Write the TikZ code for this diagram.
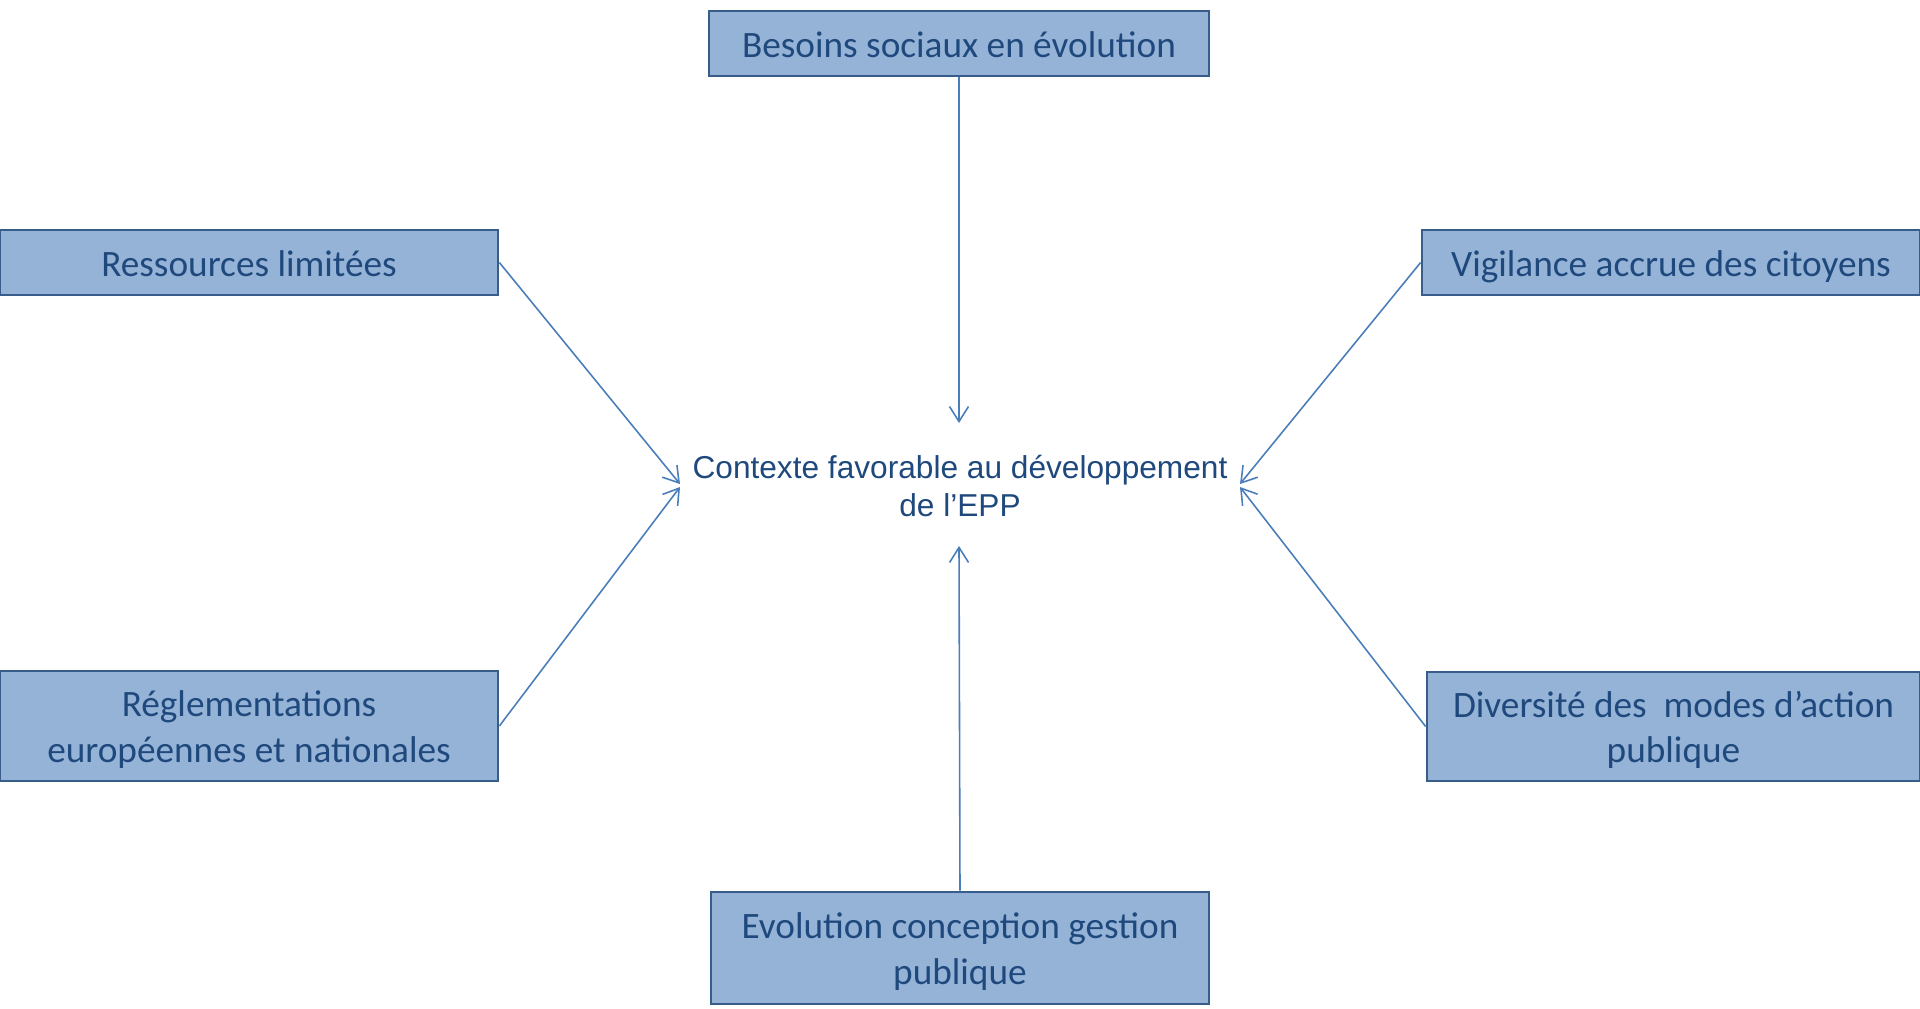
\documentclass[tikz,border=0pt]{standalone}
\usepackage{fontspec}
\setmainfont{Carlito}
\newfontfamily\arialfont{Liberation Sans}
\usetikzlibrary{arrows.meta}
\definecolor{boxfill}{HTML}{95B3D7}
\definecolor{boxline}{HTML}{385D8A}
\definecolor{txtblue}{HTML}{1F497D}
\definecolor{arrowblue}{HTML}{4A7EBB}
\newcommand\bxs{\rule[-2.65pt]{0pt}{13pt}}
\newcommand\cxs{\rule[-2.7pt]{0pt}{10.9pt}}
\tikzset{
  causebox/.style={draw=boxline, fill=boxfill, line width=0.7pt, inner sep=0pt,
    text=txtblue, align=center, font=\fontsize{10.6pt}{13pt}\selectfont},
  connector/.style={draw=arrowblue, line width=0.45pt,
    -{Straight Barb[length=1.5mm,width=1.9mm]}},
}
\begin{document}
\begin{tikzpicture}[x=0.01cm,y=-0.01cm]
\useasboundingbox (0,0) rectangle (1920,1009);
\begin{scope}
\clip (0,0) rectangle (1920,1009);
\node[causebox, minimum width=5.00cm, minimum height=0.65cm] (besoins) at (959,43.5) {\bxs Besoins sociaux en évolution};
\node[causebox, minimum width=4.98cm, minimum height=0.65cm] (ressources) at (249,262.5) {\bxs Ressources limitées};
\node[causebox, minimum width=4.98cm, minimum height=0.65cm] (vigilance) at (1671,262.5) {\bxs Vigilance accrue des citoyens};
\node[causebox, minimum width=4.98cm, minimum height=1.10cm] (regl) at (249,726) {\bxs Réglementations\\\bxs européennes et nationales};
\node[causebox, minimum width=4.93cm, minimum height=1.09cm] (diversite) at (1673.5,726.5) {\bxs Diversité des\ \ modes d’action\\\bxs publique};
\node[causebox, minimum width=4.98cm, minimum height=1.12cm] (evolution) at (960,948) {\bxs Evolution conception gestion\\\bxs publique};
\end{scope}
\node[text=txtblue, align=center, inner sep=0pt, font=\arialfont\fontsize{9pt}{10.9pt}\selectfont] (contexte) at (960,487.8) {\cxs Contexte favorable au développement\\\cxs de l’EPP};
\coordinate (tTop) at (959,423);
\coordinate (tBot) at (959,546);
\coordinate (tLU) at (680,484);
\coordinate (tLD) at (680,487);
\coordinate (tRU) at (1240,484);
\coordinate (tRD) at (1240,487);
\draw[connector] (besoins.south) -- (tTop);
\draw[connector] (evolution.north) -- (tBot);
\draw[connector] (ressources.east) -- (tLU);
\draw[connector] (regl.east) -- (tLD);
\draw[connector] (vigilance.west) -- (tRU);
\draw[connector] (diversite.west) -- (tRD);
\end{tikzpicture}
\end{document}
